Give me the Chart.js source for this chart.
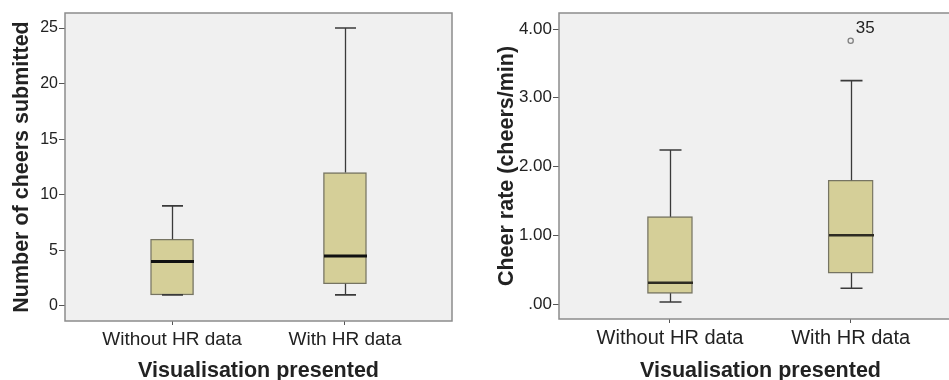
<!DOCTYPE html>
<html>
<head>
<meta charset="utf-8">
<script src="https://cdn.jsdelivr.net/npm/chart.js@4/dist/chart.umd.min.js"></script>
<style>
  html, body { margin: 0; padding: 0; background: #ffffff; width: 949px; height: 380px; overflow: hidden; }
  #left { position: absolute; left: 0; top: 0; width: 480px; height: 384px; }
  #right { position: absolute; left: 480px; top: 0; width: 500px; height: 384px; }
</style>
</head>
<body>
<div id="left"><canvas id="c1"></canvas></div>
<div id="right"><canvas id="c2"></canvas></div>
<script>
// ---- data ----
const categories = ['Without HR data', 'With HR data'];

const cheersMin    = [1, 1];
const cheersQ1     = [1, 2];
const cheersMedian = [4, 4.5];
const cheersQ3     = [6, 12];
const cheersMax    = [9, 25];
const cheersTicks  = [0, 5, 10, 15, 20, 25];
const cheersTickLabels = ['0', '5', '10', '15', '20', '25'];

const rateMin    = [0.03, 0.23];
const rateQ1     = [0.155, 0.45];
const rateMedian = [0.31, 1.00];
const rateQ3     = [1.27, 1.80];
const rateMax    = [2.24, 3.25];
const rateTicks  = [0, 1, 2, 3, 4];
const rateTickLabels = ['.00', '1.00', '2.00', '3.00', '4.00'];

const rateOutlierCategory = [1];
const rateOutlierValue    = [3.83];
const rateOutlierLabel    = ['35'];

const FONT = "'Liberation Sans', Arial, sans-serif";
const TEXT = '#222222';

const boxPlugin = {
  id: 'boxParts',
  beforeDraw(chart) {
    const a = chart.chartArea, ctx = chart.ctx;
    ctx.save();
    ctx.fillStyle = '#f0f0f0';
    ctx.fillRect(a.left, a.top, a.right - a.left, a.bottom - a.top);
    ctx.restore();
  },
  afterDatasetsDraw(chart) {
    const o = chart.options.plugins.boxParts;
    const xs = chart.scales.x, ys = chart.scales.y, ctx = chart.ctx;
    ctx.save();
    for (let i = 0; i < o.min.length; i++) {
      const cx = Math.round(xs.getPixelForValue(i)) + 0.5;
      const half = o.boxWidth / 2, capHalf = o.capWidth / 2;
      ctx.strokeStyle = '#3a3a3a';
      ctx.lineWidth = 1.3;
      ctx.beginPath();
      ctx.moveTo(cx, ys.getPixelForValue(o.q3[i]));
      ctx.lineTo(cx, ys.getPixelForValue(o.max[i]));
      ctx.moveTo(cx, ys.getPixelForValue(o.q1[i]));
      ctx.lineTo(cx, ys.getPixelForValue(o.min[i]));
      ctx.stroke();
      ctx.lineWidth = 1.6;
      ctx.beginPath();
      ctx.moveTo(cx - capHalf, ys.getPixelForValue(o.max[i]));
      ctx.lineTo(cx + capHalf, ys.getPixelForValue(o.max[i]));
      ctx.moveTo(cx - capHalf, ys.getPixelForValue(o.min[i]));
      ctx.lineTo(cx + capHalf, ys.getPixelForValue(o.min[i]));
      ctx.stroke();
      ctx.strokeStyle = o.medianColor;
      ctx.lineWidth = o.medianWidth;
      ctx.beginPath();
      const my = ys.getPixelForValue(o.median[i]);
      ctx.moveTo(cx - half, my);
      ctx.lineTo(cx + half, my);
      ctx.stroke();
    }
    if (o.outX) {
      ctx.fillStyle = TEXT;
      ctx.font = '17px ' + FONT;
      ctx.textAlign = 'left';
      ctx.textBaseline = 'middle';
      for (let k = 0; k < o.outX.length; k++) {
        const px = xs.getPixelForValue(o.outX[k]);
        const py = ys.getPixelForValue(o.outY[k]);
        ctx.fillText(o.outLabel[k], px + 5, py - 12);
      }
    }
    const a = chart.chartArea;
    ctx.strokeStyle = '#8c8c8c';
    ctx.lineWidth = 1.5;
    ctx.strokeRect(a.left, a.top, a.right - a.left, a.bottom - a.top);
    ctx.restore();
  }
};

function makeChart(id, cfg) {
  const datasets = [{
    type: 'bar',
    data: categories.map((c, i) => ({ x: i, y: [cfg.q1[i], cfg.q3[i]] })),
    backgroundColor: '#d5cf98',
    borderColor: '#767462',
    borderWidth: 1.4,
    borderSkipped: false,
    barThickness: cfg.boxWidth
  }];
  if (cfg.outX) {
    datasets.push({
      type: 'scatter',
      data: cfg.outX.map((x, k) => ({ x: x, y: cfg.outY[k] })),
      pointRadius: 2.6,
      pointBorderColor: '#808080',
      pointBackgroundColor: 'rgba(0,0,0,0)',
      pointBorderWidth: 1.3
    });
  }
  return new Chart(document.getElementById(id), {
    type: 'bar',
    data: { datasets },
    plugins: [boxPlugin],
    options: {
      responsive: true,
      maintainAspectRatio: false,
      animation: false,
      events: [],
      layout: { padding: { top: 13, right: cfg.padRight, left: 0, bottom: 0 } },
      plugins: {
        legend: { display: false },
        tooltip: { enabled: false },
        boxParts: {
          min: cfg.min, q1: cfg.q1, median: cfg.median, q3: cfg.q3, max: cfg.max,
          boxWidth: cfg.boxWidth, capWidth: cfg.capWidth,
          medianColor: cfg.medianColor, medianWidth: cfg.medianWidth,
          outX: cfg.outX, outY: cfg.outY, outLabel: cfg.outLabel
        }
      },
      scales: {
        x: {
          type: 'linear',
          offset: false,
          min: cfg.xMin, max: cfg.xMax,
          afterBuildTicks: s => { s.ticks = categories.map((c, i) => ({ value: i })); },
          afterFit: s => { s.height = cfg.xHeight; },
          grid: { offset: false, drawOnChartArea: false, drawTicks: true, tickLength: 4, color: '#555', lineWidth: 1 },
          border: { display: false },
          ticks: {
            autoSkip: false, maxRotation: 0, padding: 3, color: TEXT,
            font: { family: FONT, size: cfg.xTickSize },
            callback: v => categories[v]
          },
          title: {
            display: true, text: 'Visualisation presented', color: TEXT,
            font: { family: FONT, size: 21.5, weight: 'bold' },
            padding: { top: 0, bottom: cfg.xTitlePad }
          }
        },
        y: {
          type: 'linear',
          min: cfg.yMin, max: cfg.yMax,
          afterBuildTicks: s => { s.ticks = cfg.ticks.map(v => ({ value: v })); },
          afterFit: s => { s.width = cfg.yWidth; },
          grid: { drawOnChartArea: false, drawTicks: true, tickLength: 6, color: '#555', lineWidth: 1 },
          border: { display: false },
          ticks: {
            padding: 1, color: TEXT,
            font: { family: FONT, size: cfg.yTickSize },
            callback: (v) => cfg.tickLabels[cfg.ticks.indexOf(v)]
          },
          title: {
            display: true, text: cfg.yTitle, color: TEXT,
            font: { family: FONT, size: 21.5, weight: 'bold' },
            padding: { top: cfg.yTitlePad, bottom: 0 }
          }
        }
      }
    }
  });
}

makeChart('c1', {
  min: cheersMin, q1: cheersQ1, median: cheersMedian, q3: cheersQ3, max: cheersMax,
  ticks: cheersTicks, tickLabels: cheersTickLabels,
  yMin: -1.35, yMax: 26.35, xMin: -0.619, xMax: 1.619,
  yWidth: 65, xHeight: 63, padRight: 28,
  boxWidth: 43, capWidth: 21, medianColor: '#111111', medianWidth: 3,
  xTickSize: 19, yTickSize: 16, yTitle: 'Number of cheers submitted',
  yTitlePad: 9, xTitlePad: 0
});

makeChart('c2', {
  min: rateMin, q1: rateQ1, median: rateMedian, q3: rateQ3, max: rateMax,
  ticks: rateTicks, tickLabels: rateTickLabels,
  yMin: -0.218, yMax: 4.233, xMin: -0.614, xMax: 1.616,
  yWidth: 79, xHeight: 65, padRight: 18,
  boxWidth: 45, capWidth: 22, medianColor: '#2e2c22', medianWidth: 2.5,
  xTickSize: 20, yTickSize: 17, yTitle: 'Cheer rate (cheers/min)',
  yTitlePad: 14, xTitlePad: 0,
  outX: rateOutlierCategory, outY: rateOutlierValue, outLabel: rateOutlierLabel
});
</script>
</body>
</html>
